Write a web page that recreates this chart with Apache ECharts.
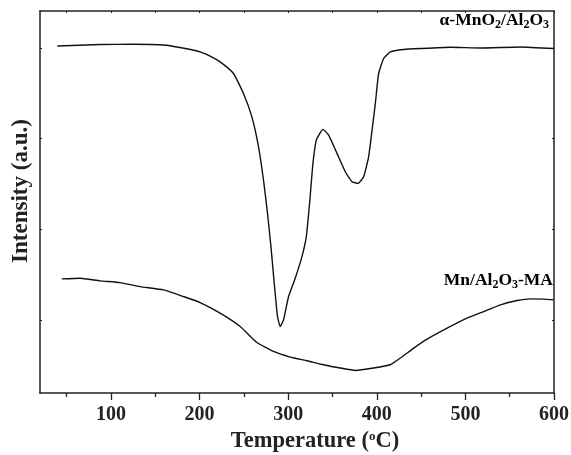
<!DOCTYPE html>
<html>
<head>
<meta charset="utf-8">
<title>TPR</title>
<script src="https://cdn.jsdelivr.net/npm/echarts@6/dist/echarts.min.js"></script>
<style>
  html, body { margin: 0; padding: 0; background: #fff; }
  #main { width: 571px; height: 455px; }
</style>
</head>
<body>
<div id="main"></div>
<script>
// temperature (C) / intensity (a.u.)
var mnO2Curve = [
  [39.5, 347.6], [87.8, 349.0], [125, 349.3], [163.1, 348.3], [178.1, 346.0],
  [190.0, 344.0], [200.7, 341.6], [212.0, 337.5], [223.3, 331.6], [238.3, 320.0], [249.6, 300.0],
  [259.1, 276.6], [266.6, 246.6], [272.2, 213.3], [276.7, 180.0], [280.6, 146.6],
  [284.3, 110.0], [288.0, 76.6], [291.1, 66.6], [294.8, 73.3], [300.5, 96.6],
  [308.0, 115.0], [315.6, 136.6], [320.5, 156.6], [324.2, 190.0], [328.0, 230.0],
  [331.8, 253.3], [339.3, 264.0], [345.7, 258.3], [355.1, 240.0], [364.5, 221.6],
  [372.1, 211.6], [378.9, 210.0], [385.2, 216.6], [390.8, 236.6], [394.7, 263.3],
  [398.4, 290.0], [402.1, 320.0], [407.8, 335.0], [415.3, 341.6], [430.4, 344.0],
  [449.2, 345.0], [483.1, 346.3], [517, 345.6], [562.2, 346.6], [600, 345.0]
];
var mnMaCurve = [
  [44.5, 114.3], [65.2, 115.0], [87.8, 112.3], [110.4, 110.6], [133.0, 106.6],
  [159.3, 103.3], [181.9, 96.6], [200.7, 90.6], [223.3, 80.0], [245.9, 66.6],
  [264.8, 50.6], [283.5, 41.6], [302.4, 36.0], [321.3, 32.3], [340.0, 28.3],
  [358.9, 25.0], [375.8, 22.6], [396.5, 25.0], [415.3, 28.3], [426.6, 35.0],
  [441.7, 45.0], [456.8, 54.0], [479.4, 65.0], [502.0, 75.0], [520.7, 81.6],
  [539.6, 88.3], [558.5, 92.6], [573.5, 94.3], [588.5, 94.0], [599.8, 93.3]
];
var xMajor = [100, 200, 300, 400, 500, 600];
var xMinor = [50, 150, 250, 350, 450, 550];
var yTicks = [73.3, 164, 255, 345.6];

var serif = '"Liberation Serif", "DejaVu Serif", serif';
var ink = '#222';

var dom = document.getElementById('main');
var myChart = echarts.init(dom, null, { renderer: 'canvas' });

var sub = { fontFamily: serif, fontWeight: 'bold', fontSize: 12, color: ink, padding: [9, 0, 0, 0] };
var big = { fontFamily: serif, fontWeight: 'bold', fontSize: 17.5, color: ink };

var option = {
  backgroundColor: '#fff',
  animation: false,
  grid: { left: 40, right: 17, top: 11, bottom: 62, outerBoundsMode: 'none', containLabel: false },
  xAxis: [
    {
      type: 'value', position: 'bottom', min: 20, max: 600,
      axisLine: { lineStyle: { color: ink, width: 1.5 } },
      axisTick: { customValues: xMajor, inside: false, length: 7, lineStyle: { color: ink, width: 1.3 } },
      axisLabel: {
        customValues: xMajor, margin: 12,
        fontFamily: serif, fontWeight: 'bold', fontSize: 20, color: ink
      },
      splitLine: { show: false },
      name: '{n|Temperature (}{sup|o}{n|C)}',
      nameLocation: 'middle', nameGap: 35,
      nameTextStyle: {
        padding: [0, 0, 0, 36],
        rich: {
          n: { fontFamily: serif, fontWeight: 'bold', fontSize: 22.5, color: ink },
          sup: { fontFamily: serif, fontWeight: 'bold', fontSize: 13, color: ink, padding: [0, 0, 10, 0] }
        }
      }
    },
    {
      type: 'value', position: 'bottom', min: 20, max: 600,
      axisLine: { show: false },
      axisTick: { customValues: xMinor, inside: false, length: 4, lineStyle: { color: ink, width: 1.3 } },
      axisLabel: { show: false },
      splitLine: { show: false }
    },
    {
      type: 'value', position: 'top', min: 20, max: 600,
      axisLine: { lineStyle: { color: ink, width: 1.5 } },
      axisTick: { customValues: xMinor.concat(xMajor), inside: true, length: 2, lineStyle: { color: ink } },
      axisLabel: { show: false },
      splitLine: { show: false }
    }
  ],
  yAxis: [
    {
      type: 'value', position: 'left', min: 0, max: 382.6,
      axisLine: { show: true, lineStyle: { color: ink, width: 1.5 } },
      axisTick: { show: true, customValues: yTicks, inside: true, length: 2, lineStyle: { color: ink } },
      axisLabel: { show: false },
      splitLine: { show: false },
      name: 'Intensity (a.u.)',
      nameLocation: 'middle', nameGap: 7,
      nameTextStyle: {
        fontFamily: serif, fontWeight: 'bold', fontSize: 23, color: ink,
        padding: [0, 0, 0, 22]
      }
    },
    {
      type: 'value', position: 'right', min: 0, max: 382.6,
      axisLine: { show: true, lineStyle: { color: ink, width: 1.5 } },
      axisTick: { show: true, customValues: yTicks, inside: true, length: 2, lineStyle: { color: ink } },
      axisLabel: { show: false },
      splitLine: { show: false }
    }
  ],
  series: [
    {
      name: 'α-MnO2/Al2O3', type: 'line', data: mnO2Curve,
      smooth: 0.15, showSymbol: false,
      lineStyle: { color: '#111', width: 1.4 }
    },
    {
      name: 'Mn/Al2O3-MA', type: 'line', data: mnMaCurve,
      smooth: 0.15, showSymbol: false,
      lineStyle: { color: '#111', width: 1.4 }
    }
  ],
  graphic: [
    {
      type: 'text', right: 22, top: 11,
      style: {
        text: '{n|α-MnO}{s|2}{n|/Al}{s|2}{n|O}{s|3}',
        rich: { n: big, s: sub }
      }
    },
    {
      type: 'text', right: 18, top: 271,
      style: {
        text: '{n|Mn/Al}{s|2}{n|O}{s|3}{n|-MA}',
        rich: { n: big, s: sub }
      }
    }
  ]
};

if (option && typeof option === 'object') {
  myChart.setOption(option);
}
window.addEventListener('resize', myChart.resize);
</script>
</body>
</html>
